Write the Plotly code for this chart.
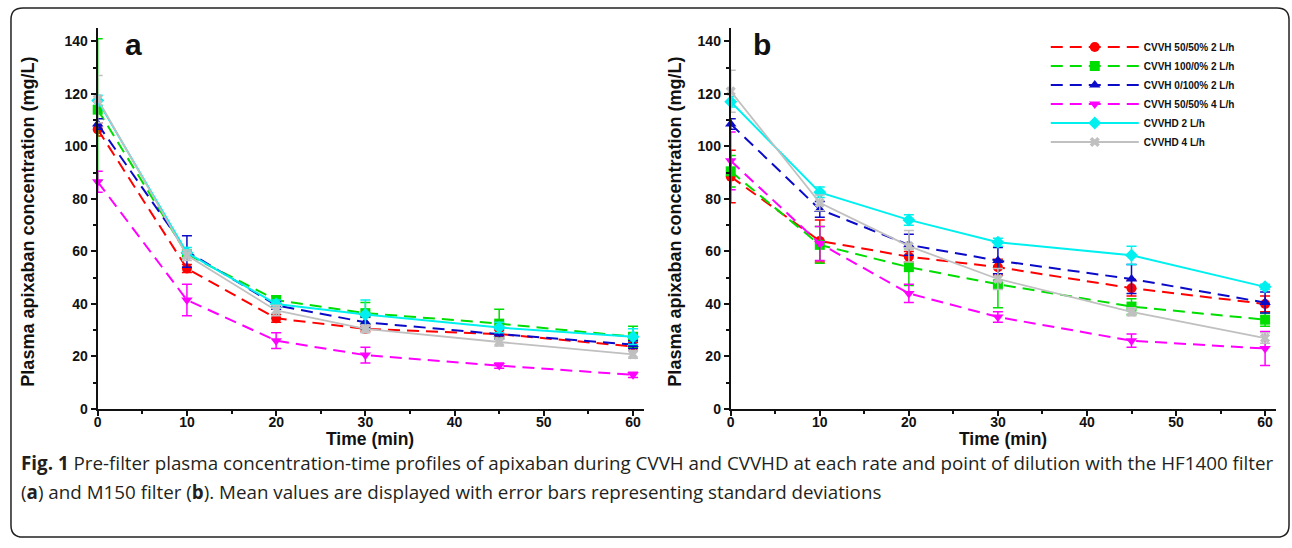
import plotly.graph_objects as go

# ---------------- data ----------------
time_min = [0, 10, 20, 30, 45, 60]

series_names = [
    "CVVH 50/50% 2 L/h",
    "CVVH 100/0% 2 L/h",
    "CVVH 0/100% 2 L/h",
    "CVVH 50/50% 4 L/h",
    "CVVHD 2 L/h",
    "CVVHD 4 L/h",
]

# Panel a (HF1400 filter): means and SDs
a_cvvh_5050_2 = [106.5, 53.5, 34.5, 30.5, 28.5, 23.8]
a_cvvh_5050_2_sd = [2.5, 1.5, 1.5, 1.0, 1.5, 1.5]
a_cvvh_1000_2 = [114.0, 59.0, 41.5, 36.5, 32.5, 27.5]
a_cvvh_1000_2_sd = [27.0, 1.5, 1.5, 4.0, 5.5, 4.0]
a_cvvh_0100_2 = [108.5, 60.0, 39.5, 33.0, 28.5, 24.5]
a_cvvh_0100_2_sd = [2.0, 6.0, 1.5, 2.0, 2.0, 1.5]
a_cvvh_5050_4 = [86.5, 41.5, 26.0, 20.5, 16.5, 13.0]
a_cvvh_5050_4_sd = [4.0, 6.0, 3.0, 3.0, 1.0, 1.0]
a_cvvhd_2 = [117.5, 59.5, 40.0, 36.0, 31.0, 27.5]
a_cvvhd_2_sd = [2.0, 2.0, 1.5, 5.5, 2.0, 3.0]
a_cvvhd_4 = [118.0, 58.5, 37.5, 30.5, 25.5, 20.8]
a_cvvhd_4_sd = [9.0, 2.0, 2.0, 1.5, 1.5, 1.5]

# Panel b (M150 filter): means and SDs
b_cvvh_5050_2 = [88.5, 64.0, 58.0, 54.0, 46.0, 40.0]
b_cvvh_5050_2_sd = [10.0, 8.0, 2.0, 3.0, 3.0, 3.0]
b_cvvh_1000_2 = [90.5, 62.5, 54.0, 47.5, 39.0, 34.0]
b_cvvh_1000_2_sd = [6.0, 7.0, 7.0, 9.0, 3.0, 2.5]
b_cvvh_0100_2 = [108.5, 76.0, 62.5, 56.5, 49.5, 40.5]
b_cvvh_0100_2_sd = [2.0, 3.0, 4.0, 5.0, 5.5, 4.0]
b_cvvh_5050_4 = [94.5, 63.0, 44.0, 35.0, 26.0, 23.0]
b_cvvh_5050_4_sd = [11.0, 6.5, 3.5, 2.0, 2.5, 6.5]
b_cvvhd_2 = [117.0, 82.5, 72.0, 63.5, 58.5, 46.5]
b_cvvhd_2_sd = [2.0, 2.0, 2.0, 1.5, 3.5, 1.0]
b_cvvhd_4 = [121.0, 78.5, 62.0, 49.5, 37.0, 27.0]
b_cvvhd_4_sd = [8.0, 3.0, 6.0, 4.0, 1.5, 2.0]

y_tick_vals = [0, 20, 40, 60, 80, 100, 120, 140]
x_tick_vals = [0, 10, 20, 30, 40, 50, 60]

# ---------------- styles ----------------
W, H = 1292, 548
colors = ["#ff0000", "#00dd00", "#0a0ac8", "#ff00ff", "#00f0f0", "#c0c0c0"]
symbols = ["circle", "square", "triangle-up", "triangle-down", "diamond", "x"]
dashes = ["12px,7px", "12px,7px", "12px,7px", "12px,7px", "solid", "solid"]
widths = [2, 2, 2, 2, 2, 1.8]

panel_a = [
    (a_cvvh_5050_2, a_cvvh_5050_2_sd), (a_cvvh_1000_2, a_cvvh_1000_2_sd),
    (a_cvvh_0100_2, a_cvvh_0100_2_sd), (a_cvvh_5050_4, a_cvvh_5050_4_sd),
    (a_cvvhd_2, a_cvvhd_2_sd), (a_cvvhd_4, a_cvvhd_4_sd),
]
panel_b = [
    (b_cvvh_5050_2, b_cvvh_5050_2_sd), (b_cvvh_1000_2, b_cvvh_1000_2_sd),
    (b_cvvh_0100_2, b_cvvh_0100_2_sd), (b_cvvh_5050_4, b_cvvh_5050_4_sd),
    (b_cvvhd_2, b_cvvhd_2_sd), (b_cvvhd_4, b_cvvhd_4_sd),
]


def px_x(p):
    return p / W


def px_y(p):
    return 1 - p / H


fig = go.Figure()

for panel, xa, ya, show in [(panel_a, "x", "y", False), (panel_b, "x2", "y2", True)]:
    for i, (vals, sds) in enumerate(panel):
        fig.add_trace(go.Scatter(
            x=time_min, y=vals, xaxis=xa, yaxis=ya,
            name=series_names[i], showlegend=show,
            mode="lines+markers",
            line=dict(color=colors[i], width=widths[i], dash=dashes[i]),
            marker=dict(symbol=symbols[i], size=10 if symbols[i] != "x" else 9,
                        color=colors[i], line=dict(width=0)),
            error_y=dict(type="data", array=sds, visible=True, color=colors[i],
                         thickness=1.5, width=5),
            cliponaxis=False,
        ))

tickfont = dict(family="Liberation Sans, Arial", size=14, color="#111111", weight="bold")
axis_common = dict(
    showline=True, linecolor="#111111", linewidth=2, showgrid=False, zeroline=False,
    ticks="outside", ticklen=5, tickwidth=1.5, tickcolor="#111111", tickfont=tickfont,
)
# pixel geometry: y=0 at 415 px, y=140 at 42 px, axis top at 28 px
y0_px, y140_px, ytop_px = 415.0, 42.0, 28.0
ppu = (y0_px - y140_px) / 140.0
yr = [0, (y0_px - ytop_px) / ppu]
xr = [0, 61.2]
a_x0, a_x60 = 94.0, 631.0
b_x0, b_x60 = 729.0, 1265.0
xa_dom = [px_x(a_x0), px_x(a_x0 + (a_x60 - a_x0) * xr[1] / 60)]
xb_dom = [px_x(b_x0), px_x(b_x0 + (b_x60 - b_x0) * xr[1] / 60)]
y_dom = [px_y(y0_px), px_y(ytop_px)]
minor_x = dict(dtick=5, tick0=0, ticks="outside", ticklen=3, tickwidth=1.5, tickcolor="#111111")
minor_y = dict(dtick=10, tick0=0, ticks="outside", ticklen=3, tickwidth=1.5, tickcolor="#111111")

fig.update_layout(
    xaxis=dict(domain=xa_dom, range=xr, anchor="y", tickvals=x_tick_vals, minor=minor_x,
               ticklabelstandoff=-6, **axis_common),
    yaxis=dict(domain=y_dom, range=yr, anchor="x", tickvals=y_tick_vals, minor=minor_y, **axis_common),
    xaxis2=dict(domain=xb_dom, range=xr, anchor="y2", tickvals=x_tick_vals, minor=minor_x,
                ticklabelstandoff=-6, **axis_common),
    yaxis2=dict(domain=y_dom, range=yr, anchor="x2", tickvals=y_tick_vals, minor=minor_y, **axis_common),
)

ann = []
title_font = dict(family="Liberation Sans, Arial", size=18, color="#111111", weight="bold")
xtitle_font = dict(family="Liberation Sans, Arial", size=17.5, color="#111111", weight="bold")
for cx in [(a_x0 + 641) / 2, (b_x0 + 1276) / 2]:
    ann.append(dict(text="Time (min)", x=px_x(cx), y=px_y(446), xref="paper", yref="paper",
                    showarrow=False, font=xtitle_font, xanchor="center", yanchor="middle",
                    borderpad=0))
for cx in [24, 673]:
    ann.append(dict(text="Plasma apixaban concentration (mg/L)", x=px_x(cx), y=px_y(225),
                    xref="paper", yref="paper", showarrow=False, font=title_font,
                    textangle=-90, xanchor="center", yanchor="middle"))
letter_font = dict(family="Liberation Sans, Arial", size=30, color="#111111", weight="bold")
ann.append(dict(text="a", x=px_x(130), y=px_y(45), xref="paper", yref="paper",
                showarrow=False, font=letter_font, xanchor="center", yanchor="middle"))
ann.append(dict(text="b", x=px_x(760), y=px_y(45), xref="paper", yref="paper",
                showarrow=False, font=letter_font, xanchor="center", yanchor="middle"))

cap_font = dict(family="Open Sans", size=18.8, color="#231f20")
ann.append(dict(
    text="<b>Fig. 1</b> Pre-filter plasma concentration-time profiles of apixaban during CVVH and CVVHD at each rate and point of dilution with the HF1400 filter",
    x=px_x(15), y=px_y(470), xref="paper", yref="paper", showarrow=False,
    font=cap_font, xanchor="left", yanchor="middle", align="left"))
ann.append(dict(
    text="(<b>a</b>) and M150 filter (<b>b</b>). Mean values are displayed with error bars representing standard deviations",
    x=px_x(15), y=px_y(499), xref="paper", yref="paper", showarrow=False,
    font=cap_font, xanchor="left", yanchor="middle", align="left"))

# rounded frame around the figure (pixel path converted to paper coords)
fx0, fy0, fx1, fy1, r = 7, 8, 1289, 545, 12
path = (f"M {fx0 + r} {fy0} L {fx1 - r} {fy0} Q {fx1} {fy0} {fx1} {fy0 + r} "
        f"L {fx1} {fy1 - r} Q {fx1} {fy1} {fx1 - r} {fy1} L {fx0 + r} {fy1} "
        f"Q {fx0} {fy1} {fx0} {fy1 - r} L {fx0} {fy0 + r} Q {fx0} {fy0} {fx0 + r} {fy0} Z")
res = []
is_x = True
for t in path.split():
    try:
        v = float(t)
        res.append(f"{v / W:.6f}" if is_x else f"{1 - v / H:.6f}")
        is_x = not is_x
    except ValueError:
        res.append(t)
        is_x = True
paper_path = " ".join(res)

fig.update_layout(
    width=W, height=H,
    margin=dict(l=0, r=0, t=0, b=0),
    paper_bgcolor="white", plot_bgcolor="white",
    annotations=ann,
    shapes=[dict(type="path", path=paper_path, xref="paper", yref="paper",
                 line=dict(color="#222222", width=1.5), layer="below")],
    legend=dict(x=px_x(1045), y=px_y(33), xanchor="left", yanchor="top",
                bgcolor="rgba(0,0,0,0)", itemwidth=88, tracegroupgap=0,
                font=dict(family="Liberation Sans, Arial", size=10, color="#111111",
                          weight="bold")),
)

post = ("document.documentElement.style.overflow='hidden';"
        "document.body.style.margin='0';document.body.style.overflow='hidden';"
        "var gd=document.getElementById('{plot_id}');"
        "gd.style.display='block';gd.parentNode.style.lineHeight='0';"
        "gd.parentNode.style.height='548px';gd.parentNode.style.overflow='hidden';")
fig.write_html("out.html", config={"displayModeBar": False}, post_script=post)
